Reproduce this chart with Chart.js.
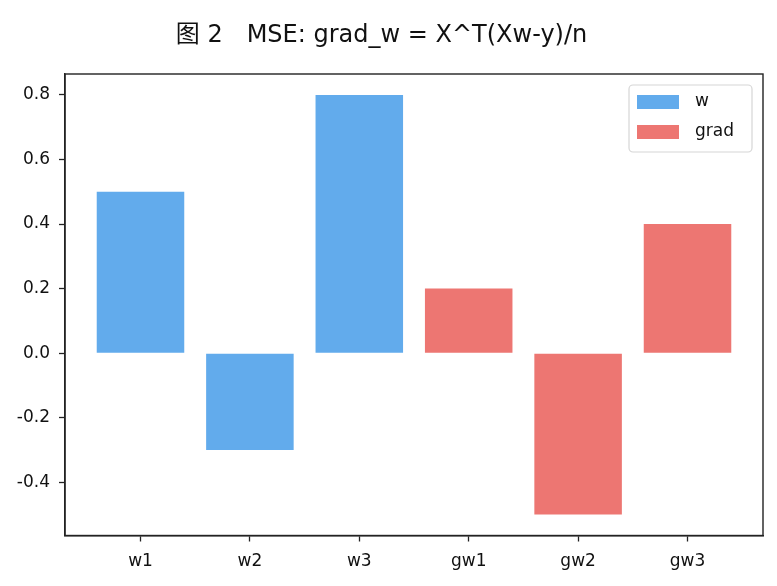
<!DOCTYPE html>
<html>
<head>
<meta charset="utf-8">
<script src="https://cdn.jsdelivr.net/npm/chart.js@4/dist/chart.umd.min.js"></script>
<style>
html,body{margin:0;padding:0;background:#fff;}
#wrap{width:777px;height:586px;}
</style>
</head>
<body>
<div id="wrap"><canvas id="c" width="777" height="586"></canvas></div>
<script>
const categories = ['w1','w2','w3','gw1','gw2','gw3'];
const wPositions = [0,1,2];
const wValues = [0.5,-0.3,0.8];
const gradPositions = [3,4,5];
const gradValues = [0.2,-0.5,0.4];
const yTicks = [-0.4,-0.2,0.0,0.2,0.4,0.6,0.8];
const seriesLabels = ['w','grad'];
const titleText = '图 2　MSE: grad_w = X^T(Xw-y)/n';

const FONT = "'DejaVu Sans', 'Noto Sans CJK SC', sans-serif";
const AX = '#222222';

const frame = {
  id:'frame',
  afterDatasetsDraw(chart){
    const {ctx, chartArea:a} = chart;
    ctx.save();
    ctx.strokeStyle = AX; ctx.lineWidth = 1.4;
    ctx.strokeRect(a.left, a.top, a.right-a.left, a.bottom-a.top);
    ctx.restore();
  },
  afterDraw(chart){
    const {ctx, chartArea:a} = chart;
    const w = 123, h = 67;
    const x0 = a.right - 11 - w, y0 = a.top + 11;
    ctx.save();
    ctx.fillStyle = 'rgba(255,255,255,0.8)';
    ctx.strokeStyle = '#d6d6d6'; ctx.lineWidth = 1.2;
    ctx.beginPath();
    ctx.roundRect(x0, y0, w, h, 4);
    ctx.fill(); ctx.stroke();
    ctx.font = '17px ' + FONT;
    ctx.textBaseline = 'middle';
    chart.data.datasets.forEach((ds,i)=>{
      const cy = y0 + 17 + i*30;
      ctx.fillStyle = ds.backgroundColor;
      ctx.fillRect(x0+8, cy-7, 42, 14);
      ctx.fillStyle = '#111';
      ctx.fillText(ds.label, x0+66, cy);
    });
    ctx.restore();
  }
};

new Chart(document.getElementById('c'), {
  type:'bar',
  data:{
    datasets:[
      {label:seriesLabels[0], data:wPositions.map((x,i)=>({x, y:wValues[i]})), backgroundColor:'#62abec', grouped:false, barPercentage:0.8, categoryPercentage:1.0},
      {label:seriesLabels[1], data:gradPositions.map((x,i)=>({x, y:gradValues[i]})), backgroundColor:'#ed7672', grouped:false, barPercentage:0.8, categoryPercentage:1.0}
    ]
  },
  options:{
    responsive:false,
    animation:false,
    devicePixelRatio:1,
    layout:{padding:{left:0,right:14,top:0,bottom:0}},
    plugins:{
      legend:{display:false},
      tooltip:{enabled:false},
      title:{display:true, text:titleText, color:'#111', font:{family:FONT, size:24, weight:'normal'}, padding:{top:21,bottom:24.2}}
    },
    scales:{
      x:{
        type:'linear', min:-0.69, max:5.69, offset:false,
        afterBuildTicks(s){ s.ticks = categories.map((_,i)=>({value:i})); },
        afterFit(s){ s.height = 50.5; },
        grid:{offset:false, drawOnChartArea:false, drawTicks:true, tickLength:6, tickColor:AX, tickWidth:1.3},
        border:{display:true, color:AX, width:1.4},
        ticks:{color:'#111', padding:10, maxRotation:0, autoSkip:false, font:{family:FONT,size:17}, callback:(v)=>categories[v]}
      },
      y:{
        min:-0.565, max:0.865,
        afterBuildTicks(s){ s.ticks = yTicks.map(v=>({value:v})); },
        afterFit(s){ s.width = 65; },
        grid:{drawOnChartArea:false, drawTicks:true, tickLength:6, tickColor:AX, tickWidth:1.3},
        border:{display:true, color:AX, width:1.4},
        ticks:{color:'#111', padding:9, font:{family:FONT,size:17}, callback:(v)=>Number(v).toFixed(1)}
      }
    }
  },
  plugins:[frame]
});
</script>
</body>
</html>
